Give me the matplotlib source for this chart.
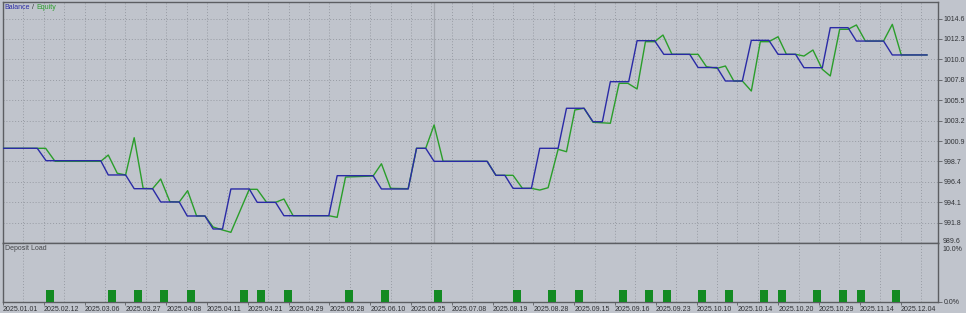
import matplotlib.pyplot as plt

dates = ['2025.01.01', '2025.02.12', '2025.03.06', '2025.03.27', '2025.04.08', '2025.04.11',
         '2025.04.21', '2025.04.29', '2025.05.28', '2025.06.10', '2025.06.25', '2025.07.08',
         '2025.08.19', '2025.08.28', '2025.09.15', '2025.09.16', '2025.09.23', '2025.10.10',
         '2025.10.14', '2025.10.20', '2025.10.29', '2025.11.14', '2025.12.04']
date_pos = [0, 2, 4, 6, 8, 10, 12, 14, 16, 18, 20, 22, 24, 26, 28, 30, 32, 34, 36, 38, 40, 42, 44]

balance_x = [0, 1.68, 2.11, 4.79, 5.16, 6.01, 6.43, 7.33, 7.73, 8.64, 9.03, 9.90, 10.30, 10.76,
             11.17, 12.07, 12.46, 13.36, 13.77, 15.97, 16.38, 18.14, 18.55, 19.86, 20.27, 20.72,
             21.13, 23.73, 24.16, 24.60, 25.00, 25.90, 26.31, 27.21, 27.62, 28.48, 28.92, 29.38,
             29.77, 30.67, 31.08, 31.94, 32.39, 33.66, 34.07, 35.00, 35.41, 36.24, 36.68, 37.54,
             37.99, 38.85, 39.26, 40.16, 40.55, 41.42, 41.83, 43.16, 43.59, 45.29]
balance = [1000.15, 1000.15, 998.77, 998.77, 997.18, 997.18, 995.65, 995.65, 994.17, 994.17,
           992.61, 992.61, 991.16, 991.16, 995.62, 995.62, 994.13, 994.13, 992.64, 992.64,
           997.10, 997.10, 995.62, 995.62, 1000.15, 1000.15, 998.70, 998.70, 997.14, 997.14,
           995.69, 995.69, 1000.15, 1000.15, 1004.61, 1004.61, 1003.11, 1003.11, 1007.57, 1007.57,
           1012.14, 1012.14, 1010.62, 1010.62, 1009.15, 1009.15, 1007.65, 1007.65, 1012.18, 1012.18,
           1010.62, 1010.62, 1009.13, 1009.13, 1013.59, 1013.59, 1012.10, 1012.10, 1010.55, 1010.55]

equity_x = [0, 2.09, 2.55, 4.79, 5.16, 5.60, 6.01, 6.43, 6.87, 7.33, 7.73, 8.18, 8.64, 9.05,
            9.49, 9.90, 10.30, 10.76, 11.17, 12.07, 12.46, 12.92, 13.36, 13.77, 14.22, 15.97,
            16.38, 16.79, 18.14, 18.55, 19.00, 19.86, 20.27, 20.72, 21.13, 21.57, 23.73, 24.16,
            25.00, 25.46, 25.90, 26.31, 26.72, 27.21, 27.62, 28.03, 28.48, 28.92, 29.77, 30.20,
            30.63, 31.08, 31.49, 31.94, 32.35, 32.79, 34.07, 34.48, 35.00, 35.41, 35.82, 36.24,
            36.68, 37.12, 37.54, 37.99, 38.40, 38.85, 39.26, 39.70, 40.16, 40.55, 41.01, 41.42,
            41.83, 42.27, 43.16, 43.59, 44.03, 45.29]
equity = [1000.15, 1000.15, 998.70, 998.70, 999.40, 997.37, 997.18, 1001.33, 995.69, 995.65,
          996.73, 994.20, 994.17, 995.43, 992.61, 992.61, 991.38, 991.05, 990.79, 995.58,
          995.58, 994.13, 994.13, 994.50, 992.64, 992.64, 992.46, 996.95, 997.06, 998.43,
          995.69, 995.65, 1000.15, 1000.15, 1002.75, 998.70, 998.70, 997.14, 997.14, 995.69,
          995.69, 995.50, 995.76, 1000.04, 999.77, 1004.42, 1004.61, 1003.05, 1002.94, 1007.39,
          1007.39, 1006.76, 1012.03, 1012.03, 1012.77, 1010.62, 1010.62, 1009.24, 1009.06, 1009.32,
          1007.65, 1007.65, 1006.53, 1012.03, 1012.03, 1012.58, 1010.62, 1010.62, 1010.43, 1011.10,
          1008.95, 1008.21, 1013.41, 1013.41, 1013.89, 1012.10, 1012.10, 1013.96, 1010.55, 1010.55]

load_x = [2.30, 5.34, 6.61, 7.89, 9.21, 11.81, 12.64, 13.96, 16.95, 18.72, 21.31, 25.18, 26.90,
          28.22, 30.38, 31.65, 32.53, 34.25, 35.57, 37.28, 38.17, 39.88, 41.16, 42.04, 43.75]
load = [2.0, 2.0, 2.0, 2.0, 2.0, 2.0, 2.0, 2.0, 2.0, 2.0, 2.0, 2.0, 2.0,
        2.0, 2.0, 2.0, 2.0, 2.0, 2.0, 2.0, 2.0, 2.0, 2.0, 2.0, 2.0]

y_ticks = [989.6, 991.87, 994.15, 996.42, 998.69, 1000.96, 1003.24, 1005.51, 1007.78,
           1010.05, 1012.33, 1014.6]
y_labels = ['989.6', '991.8', '994.1', '996.4', '998.7', '1000.9', '1003.2', '1005.5',
            '1007.8', '1010.0', '1012.3', '1014.6']

bg = '#C0C4CC'
frame = '#5C5E62'
grid = '#979BA3'
txt = '#303236'
blue = '#2A2AA6'
green = '#2A9E2A'
font = 'Liberation Sans'
fs = 5

fig = plt.figure(figsize=(9.66, 3.13), dpi=100, facecolor=bg)
W, H = 966.0, 313.0
ax = fig.add_axes([3 / W, 1 - 243 / H, 935 / W, 241 / H], facecolor=bg)
ax2 = fig.add_axes([3 / W, 1 - 302 / H, 935 / W, 59 / H], facecolor=bg)

xmax = 45.83
for a in (ax, ax2):
    a.set_xlim(0, xmax)
    for s in a.spines.values():
        s.set_color(frame)
        s.set_linewidth(1.0)
    a.set_xticks(range(1, 46), minor=True)
    a.grid(True, which='minor', axis='x', linestyle=(0, (1, 2)), color=grid, linewidth=0.7)
    a.yaxis.tick_right()

# main balance / equity panel
ax.set_ylim(989.6, 1016.45)
ax.set_yticks(y_ticks[1:])
ax.set_yticklabels(y_labels[1:], fontsize=fs, family=font, color=txt)
ax.grid(True, which='major', axis='y', linestyle=(0, (1, 2)), color=grid, linewidth=0.7)
ax.tick_params(axis='y', length=3, width=0.6, color=frame, pad=1)
ax.tick_params(axis='x', which='both', length=0, labelbottom=False)
ax.set_xticks([])
ax.axvline(21.12, color='#A4A8AF', linewidth=0.9, zorder=1)
ax.plot(equity_x, equity, color=green, linewidth=1.0, zorder=3)
ax.plot(balance_x, balance, color=blue, linewidth=1.0, zorder=4)
ax.annotate(y_labels[0], xy=(1.0, 0.0), xycoords='axes fraction', xytext=(3, 1.2),
            textcoords='offset points', fontsize=fs, family=font, color=txt,
            ha='left', va='center')

t1 = ax.text(0.002, 0.979, 'Balance', transform=ax.transAxes, fontsize=fs, family=font,
             color=blue, ha='left', va='center')
t2 = ax.annotate(' / ', xy=(1, 0), xycoords=t1, fontsize=fs, family=font, color=txt,
                 ha='left', va='bottom')
ax.annotate('Equity', xy=(1, 0), xycoords=t2, fontsize=fs, family=font, color=green,
            ha='left', va='bottom')

# deposit load panel
ax2.bar(load_x, load, width=0.39, color='#138A22', zorder=3)
ax2.set_ylim(0, 10)
ax2.set_yticks([0])
ax2.set_yticklabels(['0.0%'], fontsize=fs, family=font, color=txt)
ax2.tick_params(axis='y', length=3, width=0.6, color=frame, pad=1)
ax2.annotate('10.0%', xy=(1.0, 1.0), xycoords='axes fraction', xytext=(3, -2.2),
             textcoords='offset points', fontsize=fs, family=font, color=txt,
             ha='left', va='top')
ax2.set_xticks(date_pos)
ax2.set_xticklabels(dates, fontsize=fs, family=font, color=txt, ha='left')
ax2.tick_params(axis='x', which='major', length=2, width=0.6, color=frame, pad=1)
ax2.tick_params(axis='x', which='minor', length=0)
ax2.text(0.002, 0.9, 'Deposit Load', transform=ax2.transAxes, fontsize=fs, family=font,
         color='#45474B', ha='left', va='center')

fig.savefig('out.png', dpi=100, facecolor=bg)
